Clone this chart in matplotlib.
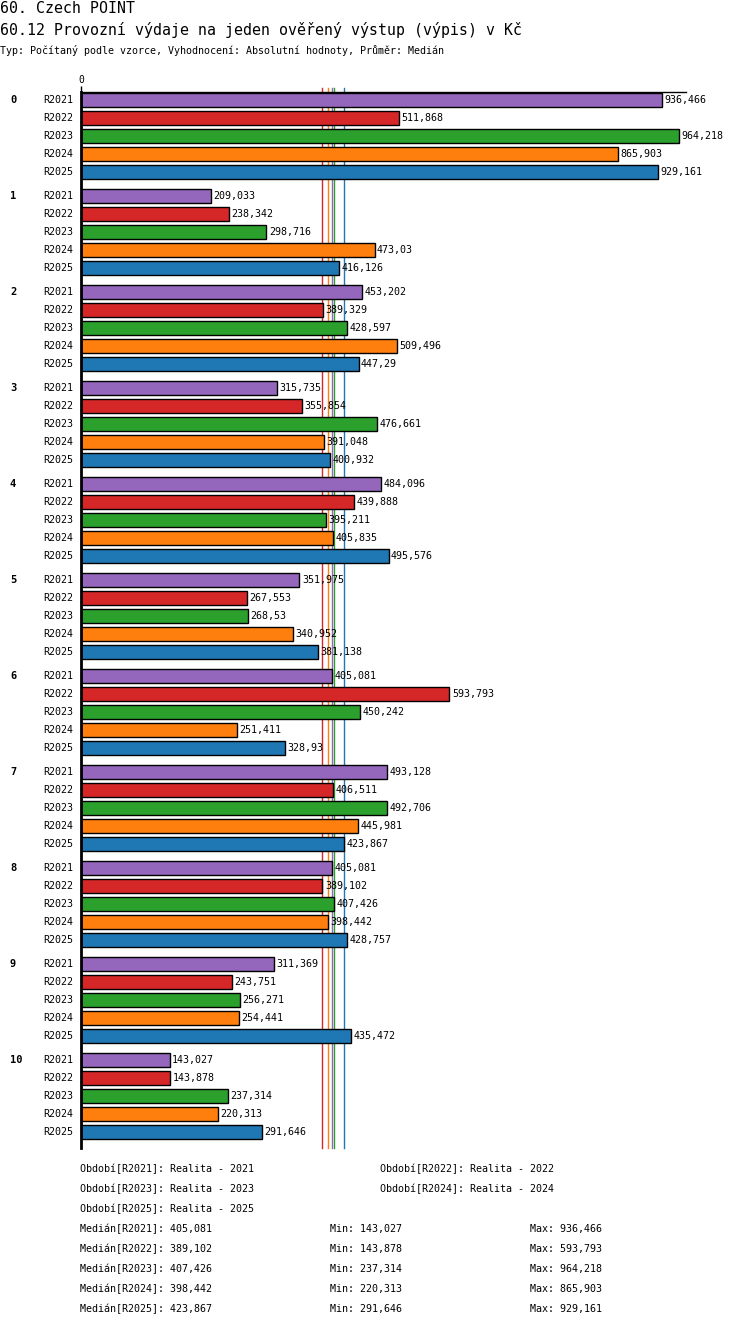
import numpy as np
import matplotlib
matplotlib.use("Agg")
import matplotlib.pyplot as plt
from matplotlib.transforms import blended_transform_factory

# data
groups = ["0", "1", "2", "3", "4", "5", "6", "7", "8", "9", "10"]
periods = ["R2021", "R2022", "R2023", "R2024", "R2025"]
period_names = ["Realita - 2021", "Realita - 2022", "Realita - 2023",
                "Realita - 2024", "Realita - 2025"]
colors = ["#9467bd", "#d62728", "#2ca02c", "#ff7f0e", "#1f77b4"]

r2021 = [936.466, 209.033, 453.202, 315.735, 484.096, 351.975, 405.081, 493.128, 405.081, 311.369, 143.027]
r2022 = [511.868, 238.342, 389.329, 355.854, 439.888, 267.553, 593.793, 406.511, 389.102, 243.751, 143.878]
r2023 = [964.218, 298.716, 428.597, 476.661, 395.211, 268.53, 450.242, 492.706, 407.426, 256.271, 237.314]
r2024 = [865.903, 473.03, 509.496, 391.048, 405.835, 340.952, 251.411, 445.981, 398.442, 254.441, 220.313]
r2025 = [929.161, 416.126, 447.29, 400.932, 495.576, 381.138, 328.93, 423.867, 428.757, 435.472, 291.646]
series = [r2021, r2022, r2023, r2024, r2025]

title1 = "60. Czech POINT"
title2 = "60.12 Provozní výdaje na jeden ověřený výstup (výpis) v Kč"
title3 = "Typ: Počítaný podle vzorce, Vyhodnocení: Absolutní hodnoty, Průměr: Medián"


def fmt(v):
    s = f"{v:.3f}".rstrip("0").rstrip(".")
    return s.replace(".", ",")


W, H = 750, 1328
fig = plt.figure(figsize=(W / 100, H / 100), dpi=100)
mono = "DejaVu Sans Mono"

# plot area in pixels
left, right, top, bottom = 81, 686, 92, 1148
ax = fig.add_axes([left / W, 1 - bottom / H, (right - left) / W, (bottom - top) / H])

gap = 1 / 3
pos = lambda g, i: g * (5 + gap) + i

for i, vals in enumerate(series):
    ys = [pos(g, i) for g in range(len(groups))]
    ax.barh(ys, vals, height=0.83, color=colors[i], edgecolor="black", linewidth=1)
    for y, v in zip(ys, vals):
        ax.text(v + 4, y, fmt(v), va="center", ha="left", fontsize=7.2,
                family=mono)

ax.set_xlim(0, 975)
y_top = -8 / 18
y_bot = pos(len(groups) - 1, 4) + 16 / 18
ax.set_ylim(y_bot, y_top)

# median lines
medians = [np.median(s) for s in series]
for m, c in zip(medians, colors):
    ax.axvline(m, ymin=0, ymax=1 + 4 / (bottom - top), color=c, lw=1, clip_on=False, zorder=0.5)

for sp in ["right", "bottom"]:
    ax.spines[sp].set_visible(False)
ax.spines["left"].set_linewidth(2)
ax.spines["top"].set_linewidth(1)
ax.xaxis.tick_top()
ax.set_xticks([0])
ax.set_xticklabels(["0"], fontsize=7, family=mono)
ax.tick_params(axis="x", length=4, width=1, pad=1)
ax.set_yticks([])

# row labels
tr = blended_transform_factory(fig.transFigure, ax.transData)
for g, name in enumerate(groups):
    ax.text(10 / W, pos(g, 0), name, transform=tr, ha="left", va="center",
            fontsize=7.5, family=mono, fontweight="bold")
    for i, p in enumerate(periods):
        ax.text(73 / W, pos(g, i), p, transform=tr, ha="right", va="center",
                fontsize=7.2, family=mono)

# titles
fig.text(0, 1 - 13 / H, title1, fontsize=10.7, family=mono, va="baseline", ha="left")
fig.text(0, 1 - 35 / H, title2, fontsize=10.7, family=mono, va="baseline", ha="left")
fig.text(0, 1 - 54 / H, title3, fontsize=7.2, family=mono, va="baseline", ha="left")

# footer
fy = 1169
for i, (p, n) in enumerate(zip(periods, period_names)):
    x = 80 if i % 2 == 0 else 380
    y = fy + (i // 2) * 20
    fig.text(x / W, 1 - y / H, f"Období[{p}]: {n}", fontsize=7.2, family=mono, va="center")
fy2 = fy + 3 * 20
for i, p in enumerate(periods):
    y = 1 - (fy2 + i * 20) / H
    fig.text(80 / W, y, f"Medián[{p}]: {fmt(medians[i])}", fontsize=7.2, family=mono, va="center")
    fig.text(330 / W, y, f"Min: {fmt(min(series[i]))}", fontsize=7.2, family=mono, va="center")
    fig.text(530 / W, y, f"Max: {fmt(max(series[i]))}", fontsize=7.2, family=mono, va="center")

fig.savefig("out.png", dpi=100)
